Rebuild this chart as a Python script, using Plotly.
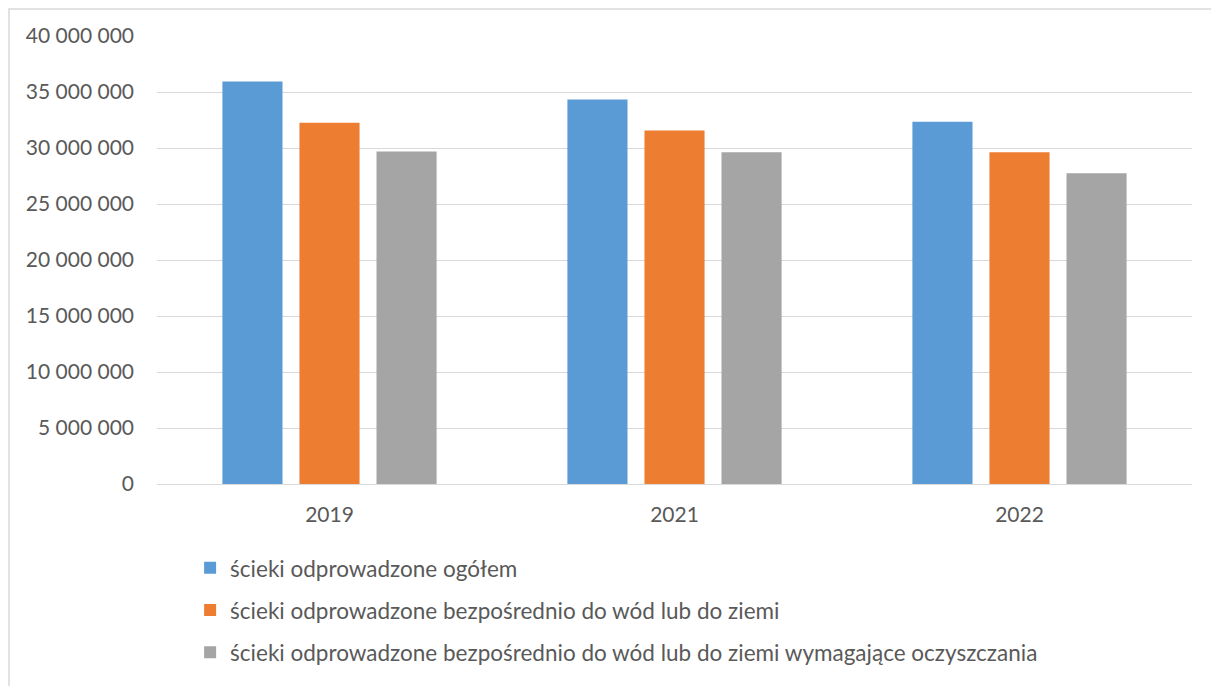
import plotly.graph_objects as go

years = ["2019", "2021", "2022"]
series_names = [
    "ścieki odprowadzone ogółem",
    "ścieki odprowadzone bezpośrednio do wód lub do ziemi",
    "ścieki odprowadzone bezpośrednio do wód lub do ziemi wymagające oczyszczania",
]
ogolem = [35940000, 34330000, 32340000]
bezposrednio = [32250000, 31560000, 29630000]
wymagajace = [29690000, 29630000, 27750000]
colors = ["#5b9bd5", "#ed7d31", "#a5a5a5"]

font_name = "Lato"
text_color = "#595959"
grid_color = "#d9d9d9"

fig = go.Figure()
for i, (name, vals) in enumerate(zip(series_names, [ogolem, bezposrednio, wymagajace])):
    fig.add_trace(go.Bar(
        x=years, y=vals, name=name,
        marker=dict(color=colors[i], line=dict(width=0)),
        legendgroup=str(i),
    ))

# page has an 8px body margin, so the figure is 8px smaller
fig.update_layout(
    width=1211, height=678,
    margin=dict(l=149, r=27, t=28, b=202),
    paper_bgcolor="white", plot_bgcolor="white",
    font=dict(family=font_name, size=20, color=text_color),
    separators=", ",
    barmode="group",
    bargap=0.33,
    bargroupgap=0.22,
    showlegend=True,
    legend=dict(
        orientation="v",
        x=0.032, xanchor="left",
        y=-0.14, yanchor="top",
        tracegroupgap=10,
        font=dict(size=22.5, color=text_color),
        itemsizing="constant",
    ),
    shapes=[dict(
        type="rect", xref="paper", yref="paper",
        x0=-0.143, x1=1.06, y0=-0.6, y1=1.06,
        line=dict(color=grid_color, width=1.5),
        fillcolor="rgba(0,0,0,0)", layer="below",
    )],
)

fig.update_xaxes(
    showgrid=False, showline=True, linecolor=grid_color, linewidth=1,
    ticks="", ticklabelstandoff=12,
    tickfont=dict(size=21, color=text_color),
)
fig.update_yaxes(
    range=[0, 40000000], dtick=5000000,
    tickformat=",.0f",
    showgrid=True, gridcolor=grid_color, gridwidth=1,
    zeroline=False, showline=False,
    ticks="", ticklabelstandoff=22,
    tickfont=dict(size=21, color=text_color),
)

fig.write_html("out.html")
